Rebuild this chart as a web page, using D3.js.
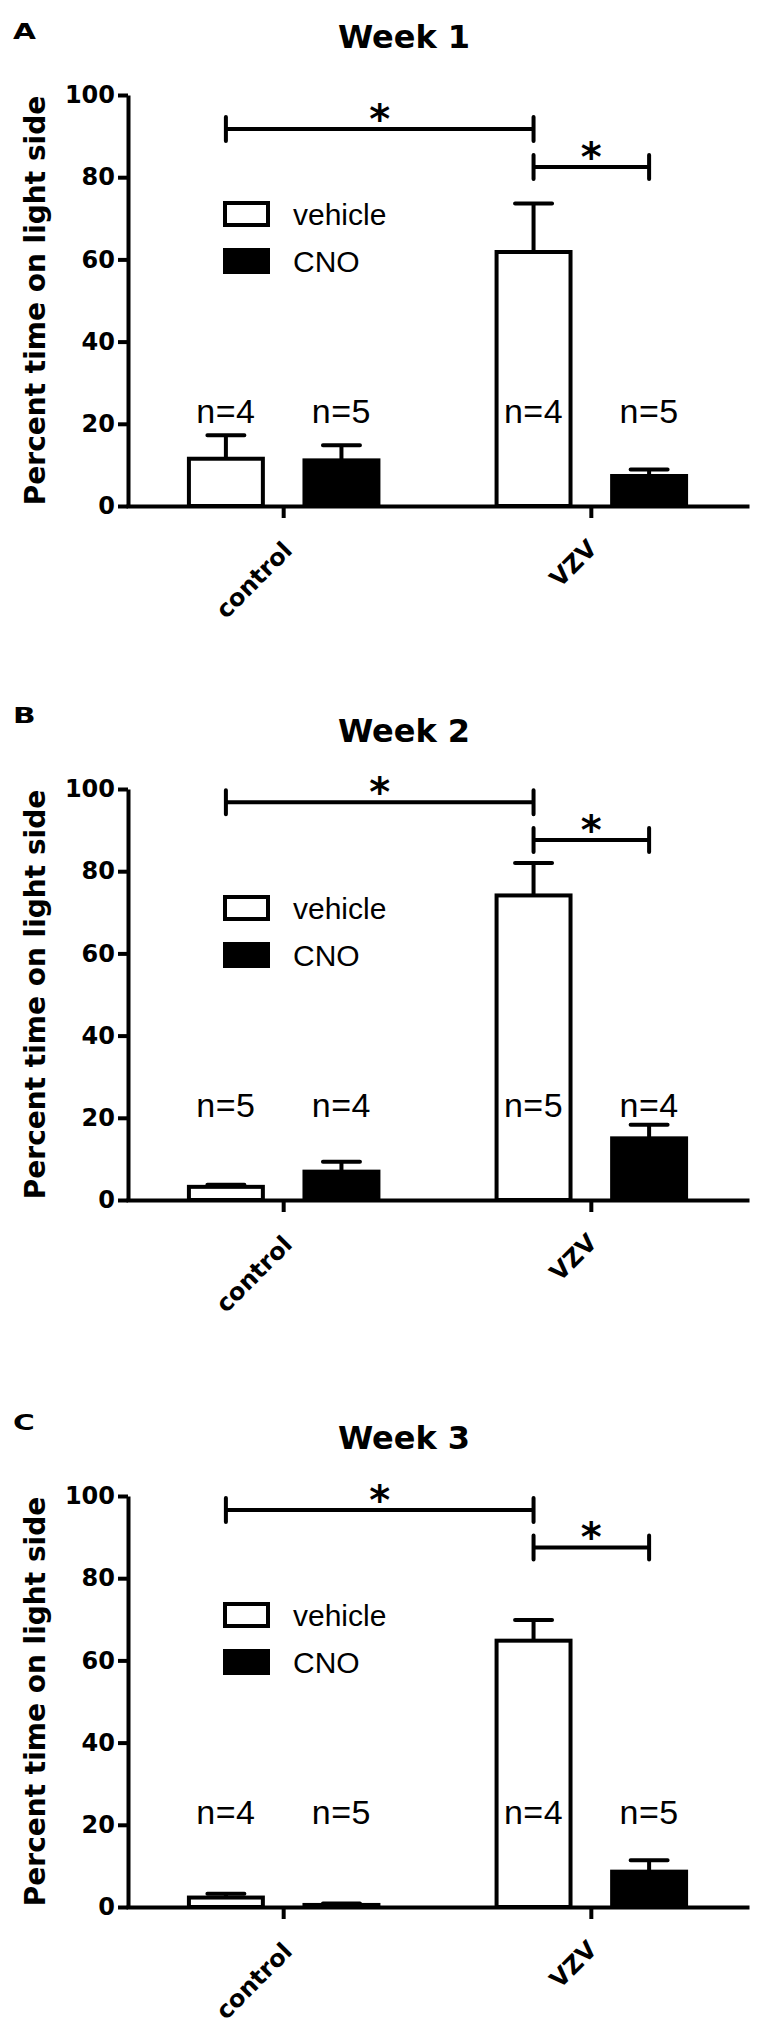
<!DOCTYPE html>
<html>
<head>
<meta charset="utf-8">
<script src="https://cdn.jsdelivr.net/npm/d3@7"></script>
<style>
  body { margin: 0; background: #fff; }
  svg { display: block; }
  .axis .tick text { font-family: "DejaVu Sans", sans-serif; font-weight: bold; font-size: 24px; fill: #000; }
  .axis path, .axis line { stroke: #000; stroke-width: 4; }
</style>
</head>
<body>
<div id="chart"></div>
<script>
// values
const weeks = ['Week 1', 'Week 2', 'Week 3'];
const panelLetters = ['A', 'B', 'C'];
const groups = ['control', 'VZV'];
const treatments = ['vehicle', 'CNO'];
const yTicks = [0, 20, 40, 60, 80, 100];

// order: control-vehicle, control-CNO, VZV-vehicle, VZV-CNO
const week1Mean = [11.5, 11.1, 61.8, 7.3];
const week1Sem = [5.7, 3.7, 11.8, 1.6];
const week1N = [4, 5, 4, 5];
const week2Mean = [3.2, 6.9, 74.1, 15.0];
const week2Sem = [0.5, 2.4, 7.9, 3.3];
const week2N = [5, 4, 5, 4];
const week3Mean = [2.3, 0.5, 64.8, 8.6];
const week3Sem = [0.9, 0.35, 5.0, 2.8];
const week3N = [4, 5, 4, 5];

// significance brackets: control-vehicle vs VZV-vehicle, VZV-vehicle vs VZV-CNO
const sigHigh = [91.7, 96.8, 96.6];
const sigLow = [82.5, 87.6, 87.5];

const means = [week1Mean, week2Mean, week3Mean];
const sems = [week1Sem, week2Sem, week3Sem];
const ns = [week1N, week2N, week3N];

// layout
const width = 768, height = 2040;
const panelTop = [95, 789, 1496];
const letterY = [39, 723, 1430];
const plotH = 411;
const axisX0 = 128, axisX1 = 747;

const svg = d3.select('#chart').append('svg')
  .attr('width', width)
  .attr('height', height);

svg.append('rect').attr('width', width).attr('height', height).attr('fill', '#fff');

const x0 = d3.scaleBand().domain(groups).range([axisX0, axisX1])
  .paddingInner(0.384).paddingOuter(0.198);
const x1 = d3.scaleBand().domain(treatments).range([0, x0.bandwidth()])
  .paddingInner(0.36);
const capW = 37;

function cx(grp, tr) {
  return x0(grp) + x1(tr) + x1.bandwidth() / 2;
}

weeks.forEach((wk, i) => {
  const top = panelTop[i];
  const y = d3.scaleLinear().domain([0, 100]).range([top + plotH, top]);
  const g = svg.append('g');

  const rows = [];
  groups.forEach((grp, gi) => {
    treatments.forEach((tr, ti) => {
      const k = gi * 2 + ti;
      rows.push({grp: grp, tr: tr, mean: means[i][k], sem: sems[i][k], n: ns[i][k]});
    });
  });

  // panel letter + title
  g.append('text')
    .attr('transform', 'translate(13,' + letterY[i] + ') scale(1.35,1)')
    .style('font-family', 'DejaVu Sans').style('font-weight', 'bold').style('font-size', '22px')
    .text(panelLetters[i]);
  g.append('text')
    .attr('x', 404).attr('y', top - 47)
    .attr('text-anchor', 'middle')
    .style('font-family', 'DejaVu Sans').style('font-weight', 'bold').style('font-size', '32px')
    .text(wk);

  // error bars (upper only)
  g.selectAll('.err')
    .data(rows)
    .enter().append('path')
    .attr('class', 'err')
    .attr('d', d => {
      const c = cx(d.grp, d.tr);
      const yt = y(d.mean + d.sem);
      return 'M' + c + ',' + y(d.mean) + 'V' + yt + 'M' + (c - capW / 2) + ',' + yt + 'H' + (c + capW / 2);
    })
    .attr('fill', 'none')
    .attr('stroke', '#000')
    .attr('stroke-width', 4)
    .attr('stroke-linecap', 'round');

  // bars
  g.selectAll('.bar')
    .data(rows)
    .enter().append('rect')
    .attr('class', 'bar')
    .attr('x', d => x0(d.grp) + x1(d.tr))
    .attr('y', d => y(d.mean))
    .attr('width', x1.bandwidth())
    .attr('height', d => y(0) - y(d.mean))
    .attr('fill', d => d.tr === 'vehicle' ? '#fff' : '#000')
    .attr('stroke', '#000')
    .attr('stroke-width', 4);

  // n labels
  g.selectAll('.nlab')
    .data(rows)
    .enter().append('text')
    .attr('class', 'nlab')
    .attr('x', d => cx(d.grp, d.tr))
    .attr('y', y(20.3))
    .attr('text-anchor', 'middle')
    .style('font-family', 'Liberation Sans, Arial, sans-serif')
    .style('font-size', '34px')
    .style('letter-spacing', '0.5px')
    .text(d => 'n=' + d.n);

  // axes
  const yAxis = d3.axisLeft(y).tickValues(yTicks).tickSize(10).tickSizeOuter(0).tickPadding(3);
  g.append('g')
    .attr('class', 'axis')
    .attr('transform', 'translate(' + axisX0 + ',0)')
    .call(yAxis);

  const xAxis = d3.axisBottom(x0).tickSize(12).tickSizeOuter(0);
  const xg = g.append('g')
    .attr('class', 'axis')
    .attr('transform', 'translate(0,' + y(0) + ')')
    .call(xAxis);
  xg.select('.domain').attr('stroke-linecap', 'square');
  xg.selectAll('.tick text')
    .attr('x', 0).attr('y', 0).attr('dy', 0)
    .attr('text-anchor', 'end')
    .attr('transform', d => d === 'control' ? 'translate(10,46) rotate(-45)' : 'translate(7,44) rotate(-45)');

  g.append('text')
    .attr('transform', 'translate(45,' + (top + plotH / 2) + ') rotate(-90)')
    .attr('text-anchor', 'middle')
    .style('font-family', 'DejaVu Sans').style('font-weight', 'bold').style('font-size', '28px')
    .text('Percent time on light side');

  // significance brackets
  const brackets = [
    {a: cx('control', 'vehicle'), b: cx('VZV', 'vehicle'), v: sigHigh[i]},
    {a: cx('VZV', 'vehicle'), b: cx('VZV', 'CNO'), v: sigLow[i]}
  ];
  g.selectAll('.sig')
    .data(brackets)
    .enter().append('path')
    .attr('class', 'sig')
    .attr('d', d => {
      const yy = y(d.v);
      return 'M' + d.a + ',' + (yy - 12) + 'V' + (yy + 12) +
        'M' + d.a + ',' + yy + 'H' + d.b +
        'M' + d.b + ',' + (yy - 12) + 'V' + (yy + 12);
    })
    .attr('fill', 'none')
    .attr('stroke', '#000')
    .attr('stroke-width', 4)
    .attr('stroke-linecap', 'round');
  g.selectAll('.star')
    .data(brackets)
    .enter().append('text')
    .attr('class', 'star')
    .attr('x', d => (d.a + d.b) / 2)
    .attr('y', d => y(d.v) + 4)
    .attr('text-anchor', 'middle')
    .style('font-family', 'DejaVu Sans').style('font-weight', 'bold').style('font-size', '40px')
    .text('*');

  // legend
  const leg = g.append('g').attr('transform', 'translate(225,' + (top + 108) + ')');
  leg.selectAll('rect')
    .data(treatments)
    .enter().append('rect')
    .attr('x', 0)
    .attr('y', (d, k) => k * 47)
    .attr('width', 43)
    .attr('height', 22)
    .attr('fill', d => d === 'vehicle' ? '#fff' : '#000')
    .attr('stroke', '#000')
    .attr('stroke-width', 4);
  leg.selectAll('text')
    .data(treatments)
    .enter().append('text')
    .attr('x', 68)
    .attr('y', (d, k) => k * 47 + 11)
    .attr('dy', '0.36em')
    .style('font-family', 'Liberation Sans, Arial, sans-serif')
    .style('font-size', '30px')
    .text(d => d);
});
</script>
</body>
</html>
